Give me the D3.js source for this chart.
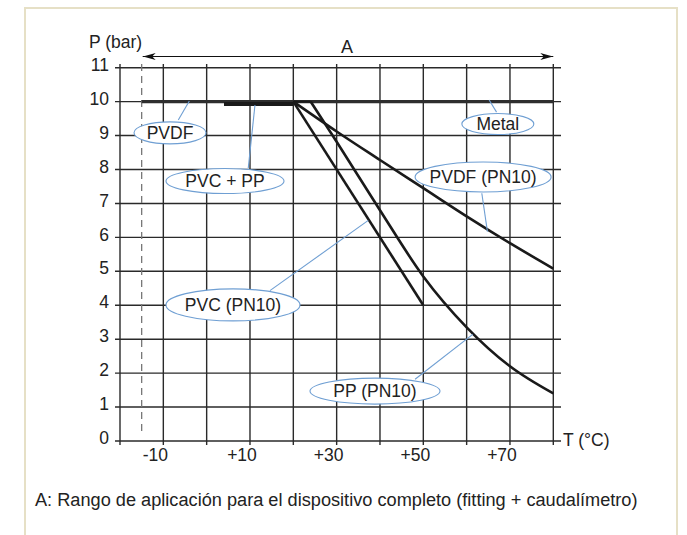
<!DOCTYPE html>
<html>
<head>
<meta charset="utf-8">
<script src="https://cdn.jsdelivr.net/npm/d3@7"></script>
<style>
  html, body { margin: 0; padding: 0; background: #fff; }
  svg { display: block; }
  text { font-family: "Liberation Sans", Arial, sans-serif; fill: #222; }
</style>
</head>
<body>
<svg id="chart" width="687" height="535"></svg>
<script>
// ---- data ----
const xTickValues = [-10, 10, 30, 50, 70];
const xTickLabels = ["-10", "+10", "+30", "+50", "+70"];
const yTickValues = [0, 1, 2, 3, 4, 5, 6, 7, 8, 9, 10, 11];
const gridT = [-10, 0, 10, 20, 30, 40, 50, 60, 70, 80];

// Metal / PVDF : 10 bar from -15 to 80 °C
const metalT = [-15, 80];
const metalP = [10, 10];
// PVC + PP : ~10 bar from +4 to +20 °C
const pvcppT = [4, 20];
const pvcppP = [9.93, 9.93];
// PVC (PN10)
const pvcT = [20, 50];
const pvcP = [10, 4.0];
// PP (PN10): flat top then falling curve
const ppTopT = [20, 24];
const ppTopP = [10, 10];
const ppT = [24, 30, 40, 50, 60, 70, 80];
const ppP = [10, 8.82, 6.8, 4.85, 3.35, 2.2, 1.4];
// PVDF (PN10)
const pvdfT = [20, 30, 40, 50, 60, 70, 80];
const pvdfP = [10, 9.12, 8.28, 7.45, 6.62, 5.83, 5.08];

const rangeLimitT = -15;      // dashed line
const rangeA = [-15, 80];     // arrow "A"

// labels: text, centre (T,P), leader from (T,P) to (T,P)
const labelTexts = ["PVDF", "PVC + PP", "Metal", "PVDF (PN10)", "PVC (PN10)", "PP (PN10)"];
const labelT = [-8.46, 4.23, 67.2, 63.8, 6.08, 38.85];
const labelP = [9.08, 7.66, 9.34, 7.78, 4.01, 1.47];
const leaderFromT = [-6.55, 9.6, 66.9, 63.5, 14.6, 48.1];
const leaderFromP = [9.46, 8.04, 9.69, 7.3, 4.43, 1.82];
const leaderToT = [-4.0, 11.15, 65.2, 64.8, 37.3, 61.4];
const leaderToP = [10.02, 9.9, 10.05, 6.17, 6.5, 3.14];

const caption = "A: Rango de aplicación para el dispositivo completo (fitting + caudalímetro)";

// ---- layout ----
const svg = d3.select("#chart");
const x = d3.scaleLinear().domain([-20, 80]).range([120, 553.3]);
const y = d3.scaleLinear().domain([0, 11]).range([441, 67.7]);
const labelRx = [36, 59, 36, 68, 67, 65];
const labelRy = [11, 12.5, 10.5, 15, 16, 13];
const fs = 17.5;

// frame
svg.append("rect").attr("x", 25).attr("y", 8).attr("width", 652).attr("height", 560)
  .attr("fill", "none").attr("stroke", "#e6e0c6").attr("stroke-width", 2);

const gridColor = "#2a2a2a";
// horizontal grid
svg.append("g").selectAll("line").data(yTickValues).join("line")
  .attr("x1", 115).attr("x2", 561)
  .attr("y1", d => y(d)).attr("y2", d => y(d))
  .attr("stroke", gridColor).attr("stroke-width", 1.4);
// vertical grid + y axis
svg.append("g").selectAll("line").data([-20].concat(gridT)).join("line")
  .attr("x1", d => x(d)).attr("x2", d => x(d))
  .attr("y1", 64).attr("y2", 445)
  .attr("stroke", gridColor).attr("stroke-width", 1.4);

// dashed range limit
svg.append("line").attr("x1", x(rangeLimitT)).attr("x2", x(rangeLimitT))
  .attr("y1", 64).attr("y2", 436)
  .attr("stroke", "#777").attr("stroke-width", 1.3).attr("stroke-dasharray", "7,5");

// tick labels
svg.append("g").selectAll("text").data(yTickValues).join("text")
  .attr("x", 109).attr("y", d => y(d) - 3).attr("dy", "0.35em")
  .attr("text-anchor", "end").attr("font-size", fs).text(d => d);
svg.append("g").selectAll("text").data(xTickValues).join("text")
  .attr("x", d => x(d) - 8).attr("y", 455).attr("dy", "0.35em")
  .attr("text-anchor", "middle").attr("font-size", fs).text((d, i) => xTickLabels[i]);

svg.append("text").attr("x", 89).attr("y", 42).attr("dy", "0.35em").attr("font-size", fs).text("P (bar)");
svg.append("text").attr("x", 563).attr("y", 440).attr("dy", "0.35em").attr("font-size", fs).text("T (°C)");

// arrow A
const defs = svg.append("defs");
defs.append("marker").attr("id", "ah").attr("viewBox", "0 0 13 8").attr("refX", 13).attr("refY", 4)
  .attr("markerWidth", 13).attr("markerHeight", 8).attr("markerUnits", "userSpaceOnUse")
  .attr("orient", "auto-start-reverse")
  .append("path").attr("d", "M0,0.5 L13,4 L0,7.5 L3.5,4 Z").attr("fill", "#111");
svg.append("line").attr("x1", x(rangeA[0]) + 1).attr("x2", x(rangeA[1]))
  .attr("y1", 56.5).attr("y2", 56.5).attr("stroke", "#111").attr("stroke-width", 1.2)
  .attr("marker-start", "url(#ah)").attr("marker-end", "url(#ah)");
svg.append("text").attr("x", 347).attr("y", 47).attr("dy", "0.35em")
  .attr("text-anchor", "middle").attr("font-size", 18).text("A");

// curves
const line = d3.line().x(d => x(d[0])).y(d => y(d[1]));
const curve = d3.line().x(d => x(d[0])).y(d => y(d[1])).curve(d3.curveMonotoneX);
const zip = (a, b) => a.map((v, i) => [v, b[i]]);

svg.append("path").attr("d", line(zip(metalT, metalP)))
  .attr("fill", "none").attr("stroke", "#2e2e2e").attr("stroke-width", 3.2);
svg.append("path").attr("d", line(zip(pvcppT, pvcppP)))
  .attr("fill", "none").attr("stroke", "#1a1a1a").attr("stroke-width", 4);
svg.append("path").attr("d", line(zip(pvcT, pvcP)))
  .attr("fill", "none").attr("stroke", "#1a1a1a").attr("stroke-width", 2.6);
svg.append("path").attr("d", line(zip(ppTopT, ppTopP)))
  .attr("fill", "none").attr("stroke", "#1a1a1a").attr("stroke-width", 2);
svg.append("path").attr("d", curve(zip(ppT, ppP)))
  .attr("fill", "none").attr("stroke", "#1a1a1a").attr("stroke-width", 2.6);
svg.append("path").attr("d", curve(zip(pvdfT, pvdfP)))
  .attr("fill", "none").attr("stroke", "#1a1a1a").attr("stroke-width", 2.6);

// labels
const blue = "#6f9fd3";
const lab = svg.append("g");
labelTexts.forEach((t, i) => {
  lab.append("line")
    .attr("x1", x(leaderFromT[i])).attr("y1", y(leaderFromP[i]))
    .attr("x2", x(leaderToT[i])).attr("y2", y(leaderToP[i]))
    .attr("stroke", blue).attr("stroke-width", 1.1);
  lab.append("ellipse")
    .attr("cx", x(labelT[i])).attr("cy", y(labelP[i]))
    .attr("rx", labelRx[i]).attr("ry", labelRy[i])
    .attr("fill", "#fff").attr("stroke", blue).attr("stroke-width", 1.1);
  lab.append("text")
    .attr("x", x(labelT[i])).attr("y", y(labelP[i])).attr("dy", "0.35em")
    .attr("text-anchor", "middle").attr("font-size", fs).text(t);
});

// caption
const cap = svg.append("text").attr("x", 35).attr("y", 506).attr("font-size", 16).text(caption);
const w = cap.node().getComputedTextLength();
cap.attr("font-size", 16 * 603 / w);
</script>
</body>
</html>
